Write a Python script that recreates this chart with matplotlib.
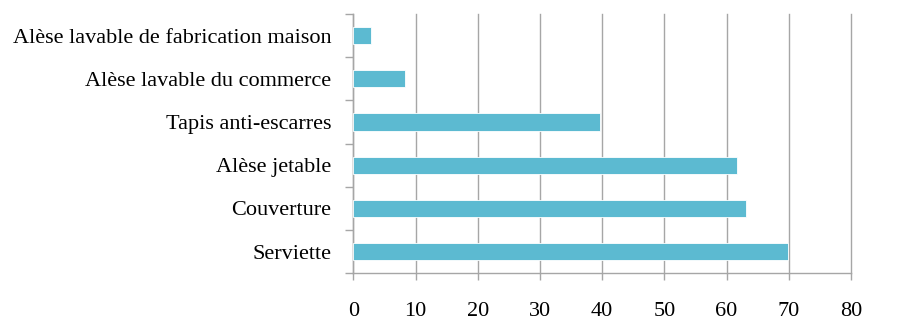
import matplotlib
matplotlib.use("Agg")
import matplotlib.pyplot as plt

categories = ["Serviette", "Couverture", "Alèse jetable", "Tapis anti-escarres",
              "Alèse lavable du commerce", "Alèse lavable de fabrication maison"]
values = [69.9, 63.1, 61.7, 39.7, 8.3, 2.8]
xticks = [0, 10, 20, 30, 40, 50, 60, 70, 80]

plt.rcParams['font.family'] = ['Liberation Serif', 'DejaVu Serif']

fig = plt.figure(figsize=(9.1, 3.2), dpi=100)
ax = fig.add_axes([0.3883, 0.1459, 0.5469, 0.8104])

ypos = list(range(len(categories)))
ax.barh(ypos, values, height=0.4, color="#5CBAD1", edgecolor="white", linewidth=0.6, zorder=3)

ax.set_xlim(0, 80)
ax.set_ylim(-0.5, len(categories) - 0.5)
ax.set_xticks(xticks)
ax.set_xticklabels([str(t) for t in xticks], fontsize=16)
ax.set_yticks(ypos)
ax.set_yticklabels(categories, fontsize=16)

ax.xaxis.grid(True, color="#A6A6A6", linewidth=1.0, zorder=0)
ax.yaxis.grid(False)
for gl in ax.get_xgridlines():
    gl.set_clip_on(False)

for s in ["top", "right"]:
    ax.spines[s].set_visible(False)
for s in ["left", "bottom"]:
    ax.spines[s].set_color("#A6A6A6")
    ax.spines[s].set_linewidth(1.0)

# category boundary tick marks
ax.set_yticks([i - 0.5 for i in range(len(categories) + 1)], minor=True)
ax.tick_params(axis="y", which="major", length=0, pad=16)
ax.tick_params(axis="y", which="minor", length=6, color="#A6A6A6", width=1.0)
ax.tick_params(axis="x", which="major", length=5, color="#A6A6A6", width=1.0, pad=16)

fig.savefig("out.png", dpi=100, facecolor="white")
